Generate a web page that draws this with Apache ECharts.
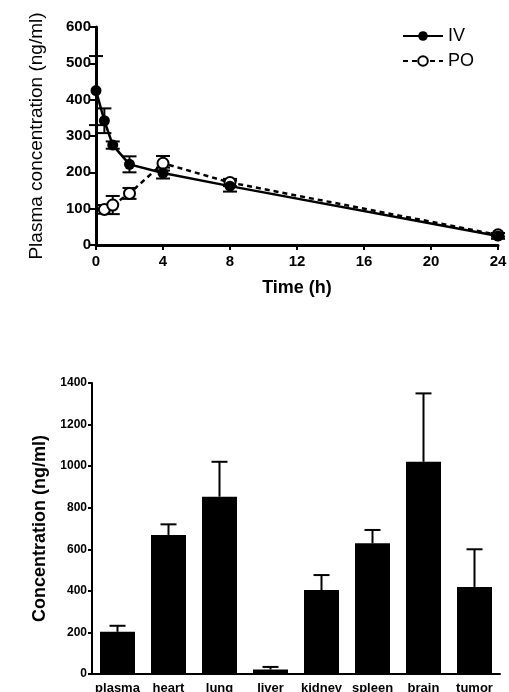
<!DOCTYPE html>
<html>
<head>
<meta charset="utf-8">
<script src="https://cdn.jsdelivr.net/npm/echarts@6/dist/echarts.min.js"></script>
<style>
  html, body { margin: 0; padding: 0; background: #fff; }
  #main { width: 509px; height: 692px; }
</style>
</head>
<body>
<div id="main"></div>
<script>
// top panel: plasma PK
const timeIV = [0, 0.5, 1, 2, 4, 8, 24];
const ivMean = [425, 342, 275, 222, 198, 162, 25];
const ivErr = [95, 34, 10, 22, 15, 15, 8];
const timePO = [0.5, 1, 2, 4, 8, 24];
const poMean = [98, 110, 142, 225, 172, 28];
const poErr = [12, 25, 15, 20, 10, 5];
const timeTicks = [0, 4, 8, 12, 16, 20, 24];

// bottom panel: tissue distribution
const tissues = ["plasma", "heart", "lung", "liver", "kidney", "spleen", "brain", "tumor"];
const tissueMean = [203, 669, 853, 22, 404, 629, 1021, 419];
const tissueErr = [29, 51, 168, 12, 72, 64, 329, 181];

const FONT = "Liberation Sans, Arial, sans-serif";
const chart = echarts.init(document.getElementById("main"));

// 误差线 (上下两端)
function errorBar(capHalf, lw) {
  return function (params, api) {
    const x = api.value(0);
    const top = api.coord([x, api.value(2)]);
    const bot = api.coord([x, api.value(1)]);
    const st = { stroke: "#000", lineWidth: lw };
    return {
      type: "group",
      children: [
        { type: "line", shape: { x1: top[0], y1: top[1], x2: bot[0], y2: bot[1] }, style: st },
        { type: "line", shape: { x1: top[0] - capHalf, y1: top[1], x2: top[0] + capHalf, y2: top[1] }, style: st },
        { type: "line", shape: { x1: bot[0] - capHalf, y1: bot[1], x2: bot[0] + capHalf, y2: bot[1] }, style: st },
      ],
    };
  };
}

const ivErrData = timeIV.map((t, i) => [t, ivMean[i] - ivErr[i], ivMean[i] + ivErr[i]]);
const poErrData = timePO.map((t, i) => [t, poMean[i] - poErr[i], poMean[i] + poErr[i]]);
const tissueErrData = tissues.map((c, i) => [i, tissueMean[i], tissueMean[i] + tissueErr[i]]);

const option = {
  backgroundColor: "#fff",
  textStyle: { fontFamily: FONT },
  animation: false,
  legend: {
    data: ["IV", "PO"],
    orient: "vertical",
    right: 30,
    top: 22,
    itemWidth: 40,
    itemHeight: 12,
    itemGap: 7,
    textStyle: { fontSize: 18, color: "#000", fontFamily: FONT },
  },
  grid: [
    { left: 96, right: 11, top: 27, height: 218, outerBoundsMode: "none" },
    { left: 92, right: 9, top: 383, bottom: 18, outerBoundsMode: "none" },
  ],
  xAxis: [
    {
      gridIndex: 0,
      type: "value",
      min: 0,
      max: 24,
      interval: 4,
      name: "Time (h)",
      nameLocation: "middle",
      nameGap: 34,
      nameTextStyle: { fontSize: 18, fontWeight: "bold", color: "#000", fontFamily: FONT },
      axisLine: { lineStyle: { color: "#000", width: 3 } },
      axisTick: { lineStyle: { color: "#000", width: 2 }, length: 5 },
      axisLabel: { fontSize: 15, fontWeight: "bold", color: "#000", margin: 9, fontFamily: FONT },
      splitLine: { show: false },
    },
    {
      gridIndex: 1,
      type: "category",
      data: tissues,
      axisLine: { lineStyle: { color: "#000", width: 2 } },
      axisTick: { alignWithLabel: true, lineStyle: { color: "#000", width: 2 }, length: 4 },
      axisLabel: { fontSize: 13, fontWeight: "bold", color: "#000", margin: 8, interval: 0, fontFamily: FONT },
    },
  ],
  yAxis: [
    {
      gridIndex: 0,
      type: "value",
      min: 0,
      max: 600,
      interval: 100,
      name: "Plasma concentration (ng/ml)",
      nameLocation: "middle",
      nameGap: 50,
      nameTextStyle: { fontSize: 19, color: "#000", fontFamily: FONT },
      axisLine: { show: true, lineStyle: { color: "#000", width: 3 } },
      axisTick: { show: true, lineStyle: { color: "#000", width: 2 }, length: 6 },
      axisLabel: { fontSize: 15, fontWeight: "bold", color: "#000", margin: 5, fontFamily: FONT },
      splitLine: { show: false },
    },
    {
      gridIndex: 1,
      type: "value",
      min: 0,
      max: 1400,
      interval: 200,
      name: "Concentration (ng/ml)",
      nameLocation: "middle",
      nameGap: 43,
      nameTextStyle: { fontSize: 18, fontWeight: "bold", color: "#000", fontFamily: FONT },
      axisLine: { show: true, lineStyle: { color: "#000", width: 2 } },
      axisTick: { show: true, lineStyle: { color: "#000", width: 2 }, length: 4 },
      axisLabel: {
        fontSize: 12,
        fontWeight: "bold",
        color: "#000",
        margin: 5,
        fontFamily: FONT,
        formatter: (v) => String(v),
      },
      splitLine: { show: false },
    },
  ],
  series: [
    {
      type: "custom",
      xAxisIndex: 0,
      yAxisIndex: 0,
      renderItem: errorBar(7, 2),
      data: ivErrData,
      z: 1,
      silent: true,
    },
    {
      type: "custom",
      xAxisIndex: 0,
      yAxisIndex: 0,
      renderItem: errorBar(7, 2),
      data: poErrData,
      z: 1,
      silent: true,
    },
    {
      name: "IV",
      type: "line",
      xAxisIndex: 0,
      yAxisIndex: 0,
      data: timeIV.map((t, i) => [t, ivMean[i]]),
      symbol: "circle",
      symbolSize: 11,
      lineStyle: { color: "#000", width: 2.5 },
      itemStyle: { color: "#000" },
      z: 3,
    },
    {
      name: "PO",
      type: "line",
      xAxisIndex: 0,
      yAxisIndex: 0,
      data: timePO.map((t, i) => [t, poMean[i]]),
      symbol: "circle",
      symbolSize: 11,
      lineStyle: { color: "#000", width: 2.5, type: [5, 4] },
      itemStyle: { color: "#fff", borderColor: "#000", borderWidth: 2 },
      z: 2,
    },
    {
      type: "bar",
      xAxisIndex: 1,
      yAxisIndex: 1,
      data: tissueMean,
      barWidth: 35,
      itemStyle: { color: "#000" },
    },
    {
      type: "custom",
      xAxisIndex: 1,
      yAxisIndex: 1,
      renderItem: function (params, api) {
        const x = api.value(0);
        const top = api.coord([x, api.value(2)]);
        const bot = api.coord([x, api.value(1)]);
        const st = { stroke: "#000", lineWidth: 2 };
        return {
          type: "group",
          children: [
            { type: "line", shape: { x1: top[0], y1: top[1], x2: bot[0], y2: bot[1] }, style: st },
            { type: "line", shape: { x1: top[0] - 8, y1: top[1], x2: top[0] + 8, y2: top[1] }, style: st },
          ],
        };
      },
      data: tissueErrData,
      silent: true,
    },
  ],
};

chart.setOption(option);
</script>
</body>
</html>
